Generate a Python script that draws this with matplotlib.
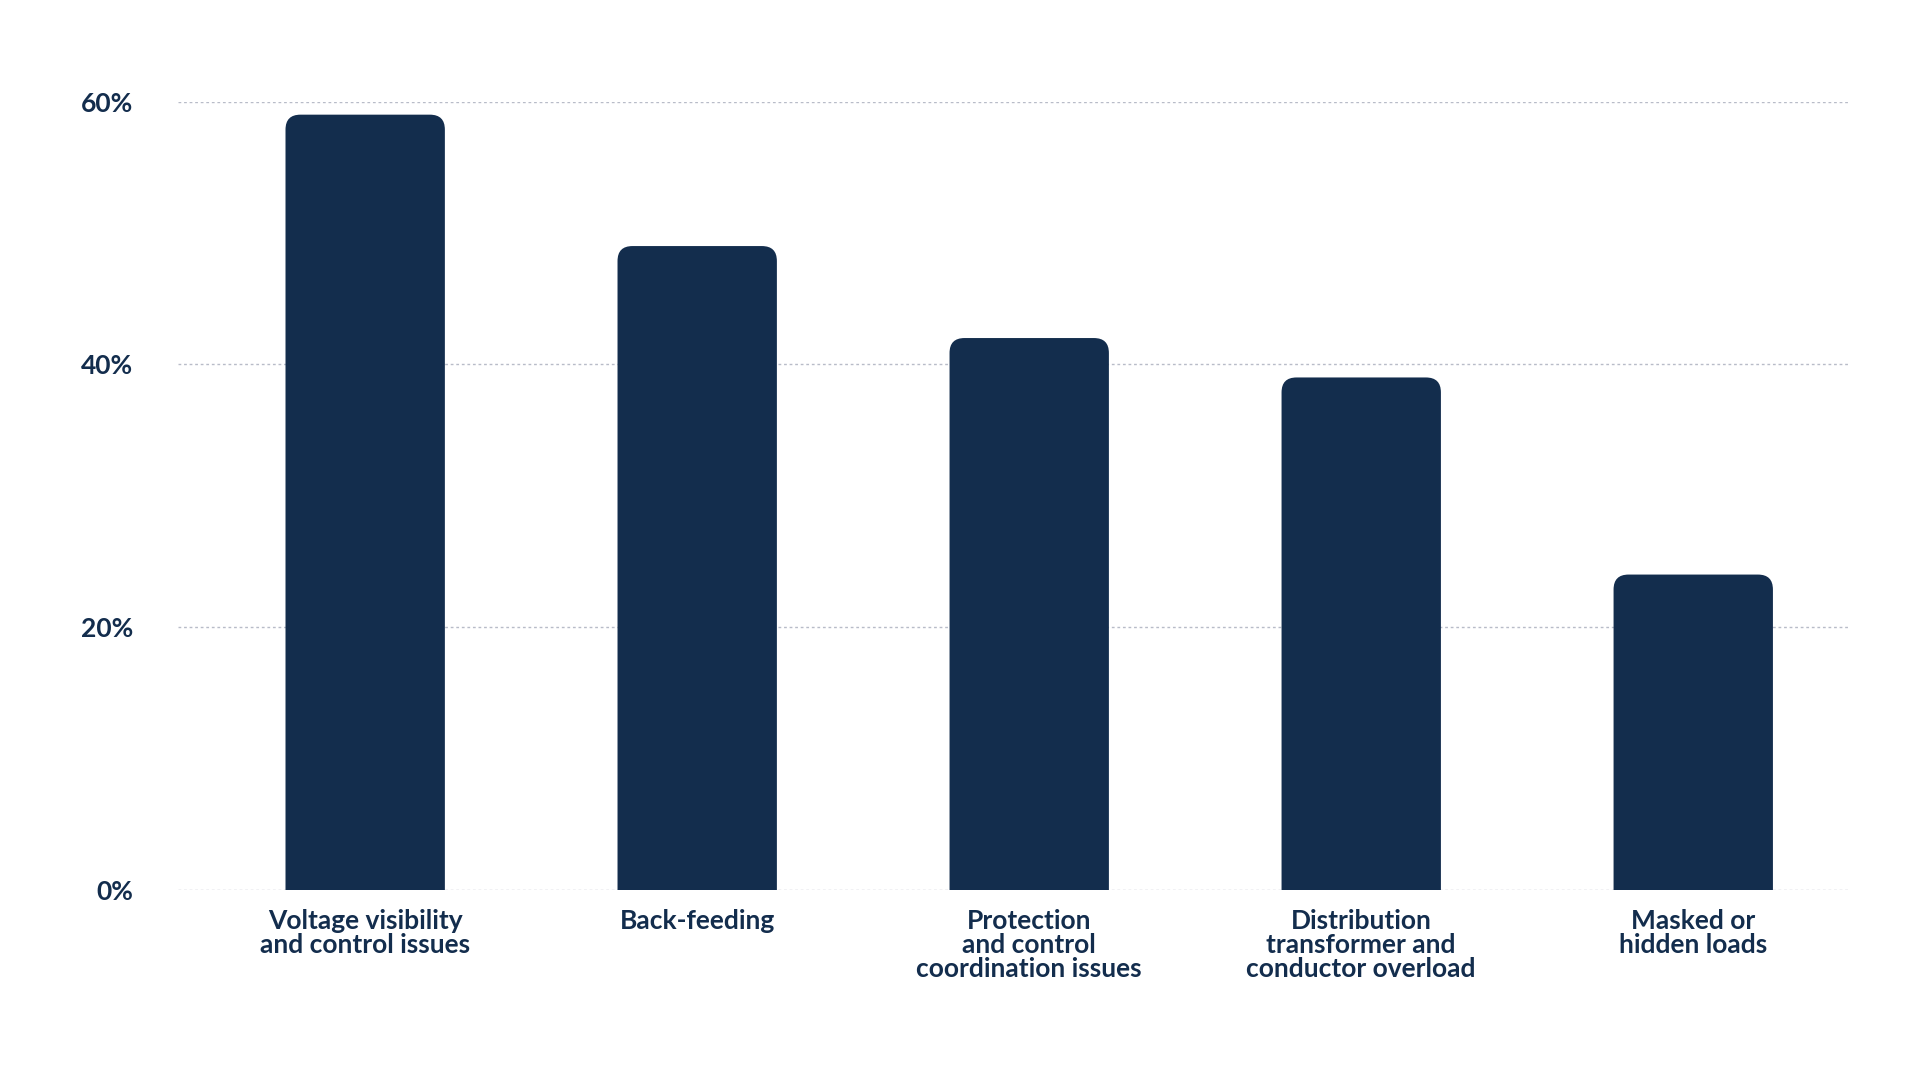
import matplotlib
matplotlib.use("Agg")
import matplotlib.pyplot as plt
from matplotlib.patches import FancyBboxPatch

categories = ["Voltage visibility\nand control issues", "Back-feeding",
              "Protection\nand control\ncoordination issues",
              "Distribution\ntransformer and\nconductor overload",
              "Masked or\nhidden loads"]
values = [59, 49, 42, 39, 24]
yticks = [0, 20, 40, 60]
ytick_labels = ["0%", "20%", "40%", "60%"]

navy = "#132d4d"
plt.rcParams["font.family"] = "Lato"
fig = plt.figure(figsize=(19.2, 10.8), dpi=100)
ax = fig.add_axes([0.0925, 0.176, 0.8705, 0.730])
ax.set_xlim(-0.565, 4.469)
ax.set_ylim(0, 60)
for y in yticks:
    ax.axhline(y, color="#b8bcc8", lw=1, ls=(0, (2, 2)), zorder=0)

bars = ax.bar(range(len(values)), values, width=0.48, color=navy, alpha=0)
# rounded tops
axw = 0.8705 * 1920; axh = 0.730 * 1080
xr = 4.469 + 0.565
aspect = (60 / axh) / (xr / axw)
for b in bars:
    x, w, h = b.get_x(), b.get_width(), b.get_height()
    p = FancyBboxPatch((x, -5), w, h + 5,
                       boxstyle="round,pad=0,rounding_size=0.045",
                       mutation_aspect=aspect, fc=navy, ec="none", zorder=2)
    ax.add_patch(p)

ax.set_xticks(range(len(values)))
ax.set_xticklabels(categories, fontsize=19, fontweight="bold", color=navy,
                   linespacing=1.0, va="top")
ax.set_yticks(yticks)
ax.set_yticklabels(ytick_labels, fontsize=19, fontweight="bold", color=navy)
ax.tick_params(length=0, pad=14)
ax.tick_params(axis="y", pad=32)
for s in ax.spines.values():
    s.set_visible(False)
fig.savefig("out.png", dpi=100)
